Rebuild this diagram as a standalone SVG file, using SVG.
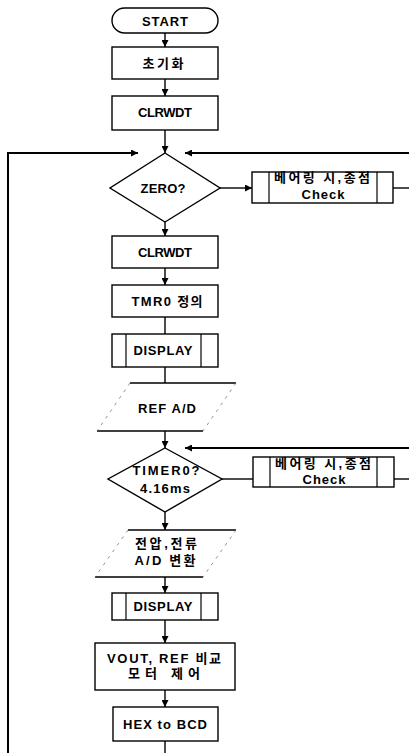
<svg xmlns="http://www.w3.org/2000/svg" width="409" height="753" viewBox="0 0 409 753">
<defs>
<marker id="ah" viewBox="0 0 10 10" refX="10" refY="5" markerWidth="7" markerHeight="7" markerUnits="userSpaceOnUse" orient="auto">
<path d="M0,0 L10,5 L0,10 z" fill="#000"/>
</marker>
<style>
.box{fill:#fff;stroke:#000;stroke-width:1.4}
.inner{fill:none;stroke:#000;stroke-width:1.2}
.pe{fill:none;stroke:#000;stroke-width:1.3}
.ps{fill:none;stroke:#777;stroke-width:0.8;stroke-dasharray:3 5}
.t{font-family:"Liberation Sans","Noto Sans CJK KR",sans-serif;font-weight:bold;font-size:13px;fill:#000;text-anchor:middle}
.c{fill:none;stroke:#000;stroke-width:1.4}
.cb{fill:none;stroke:#000;stroke-width:2}
.ca{fill:none;stroke:#000;stroke-width:1.4;marker-end:url(#ah)}
.cba{fill:none;stroke:#000;stroke-width:2;marker-end:url(#ah)}
</style>
</defs>
<rect width="409" height="753" fill="#fff"/>
<g id="connectors">
<line class="ca" x1="165" y1="33" x2="165" y2="47"/>
<line class="ca" x1="165" y1="79" x2="165" y2="96"/>
<line class="ca" x1="165" y1="130" x2="165" y2="153"/>
<polyline class="cba" points="8,753 8,153 138,153"/>
<line class="cba" x1="409" y1="153" x2="185" y2="153"/>
<line class="ca" x1="220" y1="188" x2="252" y2="188"/>
<line class="c" x1="393" y1="188" x2="409" y2="188"/>
<line class="ca" x1="165" y1="222" x2="165" y2="236"/>
<line class="ca" x1="165" y1="268" x2="165" y2="285"/>
<line class="c" x1="165" y1="317" x2="165" y2="334"/>
<line class="c" x1="165" y1="367" x2="165" y2="383"/>
<line class="ca" x1="165" y1="431" x2="165" y2="448"/>
<line class="cba" x1="409" y1="448" x2="185" y2="448"/>
<line class="c" x1="222" y1="479" x2="253" y2="479"/>
<line class="c" x1="394" y1="479" x2="409" y2="479"/>
<line class="ca" x1="165" y1="512" x2="165" y2="530"/>
<line class="ca" x1="165" y1="577" x2="165" y2="593"/>
<line class="ca" x1="165" y1="620" x2="165" y2="643"/>
<line class="ca" x1="165" y1="690" x2="165" y2="707"/>
<line class="c" x1="165" y1="741" x2="165" y2="753"/>
</g>
<g id="start">
<rect class="box" x="112" y="8" width="106" height="25" rx="12.5"/>
<text class="t" x="165" y="26" textLength="46">START</text>
</g>
<g id="init">
<rect class="box" x="112" y="47" width="106" height="32"/>
<text class="t" x="163" y="68" textLength="41">초기화</text>
</g>
<g id="clrwdt1">
<rect class="box" x="112" y="96" width="106" height="34"/>
<text class="t" x="165" y="117" textLength="54">CLRWDT</text>
</g>
<g id="zero">
<polygon class="box" points="165,153 220,188 165,222 110,188"/>
<text class="t" x="163" y="193" textLength="45">ZERO?</text>
</g>
<g id="check1">
<rect class="box" x="252" y="172" width="141" height="31"/>
<line class="inner" x1="269" y1="172" x2="269" y2="203"/>
<line class="inner" x1="377" y1="172" x2="377" y2="203"/>
<text class="t" x="322" y="182" textLength="96">베어링 시,종점</text>
<text class="t" x="323" y="199" textLength="43">Check</text>
</g>
<g id="clrwdt2">
<rect class="box" x="112" y="236" width="106" height="32"/>
<text class="t" x="165" y="257" textLength="54">CLRWDT</text>
</g>
<g id="tmr0">
<rect class="box" x="112" y="285" width="106" height="32"/>
<text class="t" x="167" y="306" textLength="71">TMR0 정의</text>
</g>
<g id="display1">
<rect class="box" x="112" y="334" width="106" height="33"/>
<line class="inner" x1="126" y1="334" x2="126" y2="367"/>
<line class="inner" x1="201" y1="334" x2="201" y2="367"/>
<text class="t" x="163" y="355" textLength="59">DISPLAY</text>
</g>
<g id="refad">
<polygon points="130,383 236,383 203,431 97,431" fill="#fff"/>
<line class="pe" x1="130" y1="383" x2="236" y2="383"/>
<line class="pe" x1="97" y1="431" x2="203" y2="431"/>
<line class="ps" x1="130" y1="383" x2="97" y2="431"/>
<line class="ps" x1="236" y1="383" x2="203" y2="431"/>
<text class="t" x="167" y="413" textLength="58">REF A/D</text>
</g>
<g id="timer0">
<polygon class="box" points="165,448 222,479 165,512 108,479"/>
<text class="t" x="166" y="475" textLength="67">TIMER0?</text>
<text class="t" x="165" y="493" textLength="50">4.16ms</text>
</g>
<g id="check2">
<rect class="box" x="253" y="457" width="141" height="30"/>
<line class="inner" x1="270" y1="457" x2="270" y2="487"/>
<line class="inner" x1="377" y1="457" x2="377" y2="487"/>
<text class="t" x="323" y="468" textLength="96">베어링 시,종점</text>
<text class="t" x="324" y="484" textLength="43">Check</text>
</g>
<g id="adconv">
<polygon points="128,530 236,530 203,577 95,577" fill="#fff"/>
<line class="pe" x1="128" y1="530" x2="236" y2="530"/>
<line class="pe" x1="95" y1="577" x2="203" y2="577"/>
<line class="ps" x1="128" y1="530" x2="95" y2="577"/>
<line class="ps" x1="236" y1="530" x2="203" y2="577"/>
<text class="t" x="166" y="548" textLength="62">전압,전류</text>
<text class="t" x="165" y="565" textLength="61">A/D 변환</text>
</g>
<g id="display2">
<rect class="box" x="112" y="593" width="106" height="27"/>
<line class="inner" x1="126" y1="593" x2="126" y2="620"/>
<line class="inner" x1="201" y1="593" x2="201" y2="620"/>
<text class="t" x="163" y="611" textLength="59">DISPLAY</text>
</g>
<g id="vout">
<rect class="box" x="95" y="643" width="140" height="47"/>
<text class="t" x="164" y="663" textLength="114">VOUT, REF 비교</text>
<text class="t" x="164" y="678" textLength="72">모터 제어</text>
</g>
<g id="hex">
<rect class="box" x="113" y="707" width="105" height="34"/>
<text class="t" x="165" y="729" textLength="84">HEX to BCD</text>
</g>
</svg>
